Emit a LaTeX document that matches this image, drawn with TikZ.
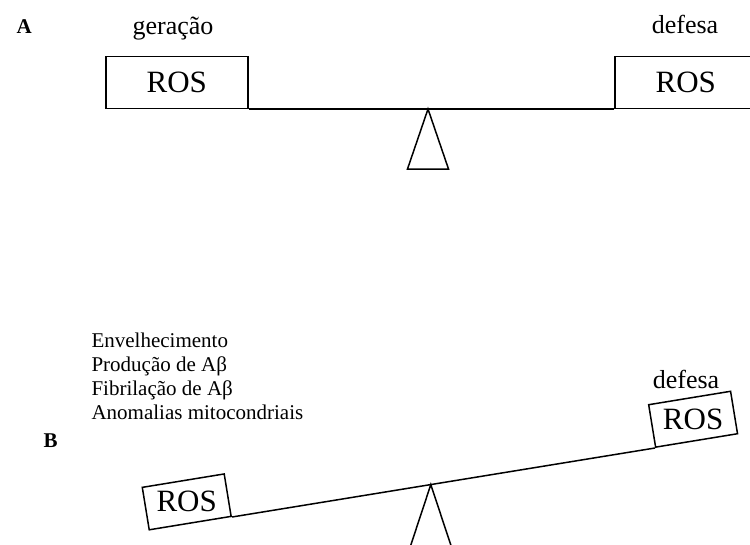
\documentclass[tikz,border=0pt]{standalone}
\usepackage{fontspec}
\usepackage{graphicx}
\setmainfont{Liberation Serif}
\usetikzlibrary{calc}

\tikzset{
  rosbox/.style   = {shape=rectangle, draw, line width=1.5pt, inner sep=0pt,
                     font=\fontsize{31}{31}\selectfont},
  bigbox/.style   = {rosbox, minimum width=142pt, minimum height=52pt},
  smallbox/.style = {rosbox, minimum width=83pt, minimum height=43pt, rotate=9.3},
  caption/.style  = {font=\fontsize{26}{26}\selectfont, anchor=base},
  panel/.style    = {font=\fontsize{21}{21}\selectfont\bfseries, anchor=base west},
  beam/.style     = {draw, line width=1.5pt}
}
\newcommand{\uprightros}{\rotatebox{-9.3}{ROS}}

\begin{document}
\begin{tikzpicture}[x=1pt, y=-1pt]
\useasboundingbox (0,0) rectangle (750,544);
\clip (0,0) rectangle (750,544);

% A: equilibrio
\node[panel] (labA) at (13,33) {A};
\node[bigbox, anchor=south west] (rosAL) at (105,109) {ROS};
\node[bigbox, anchor=south west] (rosAR) at (614,109) {ROS};
\node[caption] (gera) at (173,34) {geração};
\node[caption] (defA) at (685,33) {defesa};
\draw[beam] (rosAL.south east) -- (rosAR.south west);
\coordinate (pivA) at (428,109);
\draw[beam] (pivA) -- ++(-20.5,60) -- ++(41,0) -- cycle;

% B: desequilibrio
\node[anchor=base west, align=left, font=\fontsize{21}{24}\selectfont] (causas)
  at (88,419) {Envelhecimento\\Produção de Aβ\\Fibrilação de Aβ\\Anomalias mitocondriais};
\node[panel] (labB) at (40,447) {B};
\node[smallbox, anchor=south east] (rosBL) at (232,517) {\uprightros};
\node[smallbox, anchor=south west] (rosBR) at (655,448) {\uprightros};
\node[caption] (defB) at (686,388) {defesa};
\draw[beam] (rosBL.south east) -- (rosBR.south west);
\coordinate (pivB) at ($(rosBL.south east)!0.47!(rosBR.south west)$);
\draw[beam] (pivB) -- ++(-20.5,62) -- ++(41,0) -- cycle;
\end{tikzpicture}
\end{document}
